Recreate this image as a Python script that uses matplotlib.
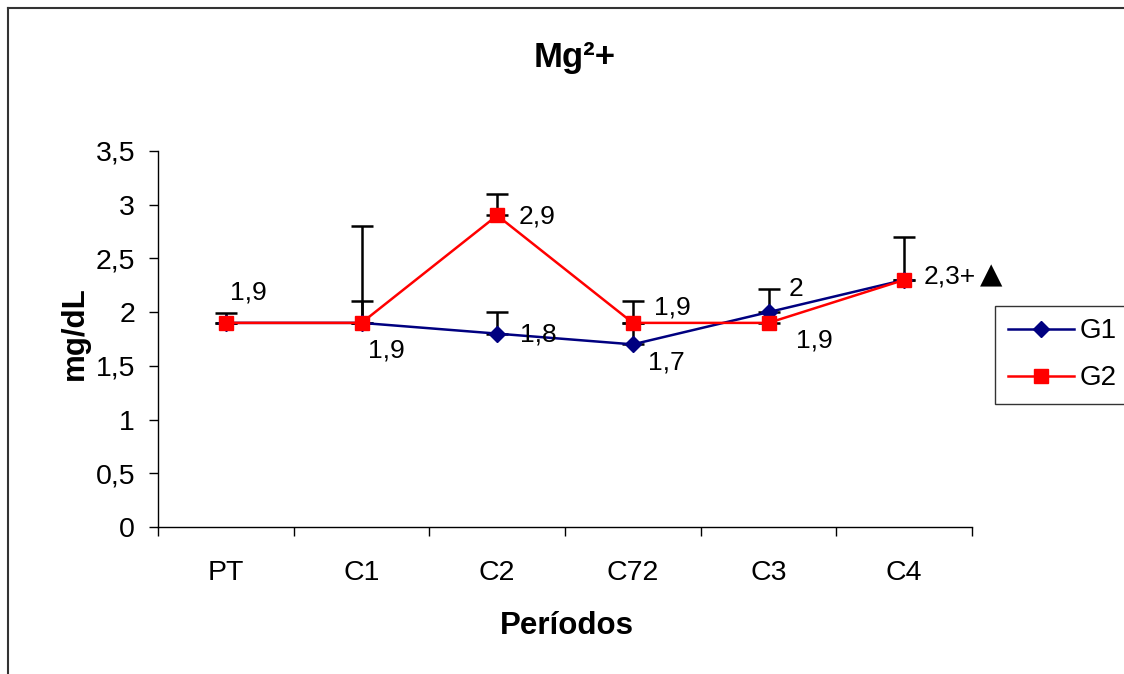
import numpy as np
import matplotlib
matplotlib.use("Agg")
import matplotlib.pyplot as plt
from matplotlib.ticker import FuncFormatter, FixedLocator
from matplotlib.lines import Line2D

plt.rcParams['font.family'] = ['Liberation Sans', 'DejaVu Sans']

categories = ["PT", "C1", "C2", "C72", "C3", "C4"]
g1 = [1.9, 1.9, 1.8, 1.7, 2.0, 2.3]
g2 = [1.9, 1.9, 2.9, 1.9, 1.9, 2.3]
g1_err = [np.nan, 0.2, 0.2, 0.2, 0.22, 0.4]
g2_err = [0.09, 0.9, 0.2, 0.2, np.nan, np.nan]
g1_labels = ["", "1,9", "1,8", "1,7", "2", ""]
g2_labels = ["1,9", "", "2,9", "1,9", "1,9", "2,3+"]
sig_mark = "\u25B2"
sig_index = 5
# label offsets in pixels (dx from point to left edge, dy of center)
g1_off = [(0, 0), (6, -28), (23, -1), (15, -18), (20, 23), (0, 0)]
g2_off = [(4, 30), (0, 0), (21, -1), (21, 15), (27, -18), (19, 3)]

W, H = 1124, 674
fig = plt.figure(figsize=(W / 100, H / 100), dpi=100)
ax = fig.add_axes([158 / W, 1 - 527 / H, (972 - 158) / W, (527 - 151) / H])

x = np.arange(len(categories))
zero = np.zeros(len(categories))

ax.errorbar(x, g1, yerr=[zero, g1_err], fmt='none', ecolor='black',
            elinewidth=1.8, capsize=8, capthick=1.8, zorder=2)
ax.errorbar(x, g2, yerr=[zero, g2_err], fmt='none', ecolor='black',
            elinewidth=1.8, capsize=8, capthick=1.8, zorder=2)
ax.plot(x, g1, color='#000080', lw=1.8, marker='D', markersize=8.5,
        markerfacecolor='#000080', markeredgecolor='#000080', zorder=3, label='G1')
ax.plot(x, g2, color='#FF0000', lw=1.8, marker='s', markersize=9.5,
        markerfacecolor='#FF0000', markeredgecolor='#FF0000', zorder=4, label='G2')

for xi, yi, lab, (dx, dy) in zip(x, g1, g1_labels, g1_off):
    if lab:
        ax.annotate(lab, (xi, yi), xytext=(dx, dy), textcoords='offset pixels',
                    ha='left', va='center', fontsize=19, zorder=5)
for xi, yi, lab, (dx, dy) in zip(x, g2, g2_labels, g2_off):
    if lab:
        ax.annotate(lab, (xi, yi), xytext=(dx, dy), textcoords='offset pixels',
                    ha='left', va='center', fontsize=19, zorder=5)
ax.annotate(sig_mark, (x[sig_index], g2[sig_index]), xytext=(76, 4),
            textcoords='offset pixels', ha='left', va='center', fontsize=21,
            family=['DejaVu Sans'], zorder=5)

ax.set_xlim(-0.5, len(categories) - 0.5)
ax.set_ylim(0, 3.5)
ax.set_yticks(np.arange(0, 3.51, 0.5))
ax.yaxis.set_major_formatter(FuncFormatter(lambda v, p: ('%g' % v).replace('.', ',')))
ax.set_xticks(x)
ax.set_xticklabels(categories)
ax.xaxis.set_minor_locator(FixedLocator(np.arange(-0.5, len(categories), 1.0)))
ax.tick_params(axis='x', which='major', length=0, pad=24, labelsize=20.5)
ax.tick_params(axis='x', which='minor', length=6.5, width=1, direction='out')
ax.tick_params(axis='y', which='major', length=6.5, width=1, direction='out',
               pad=10, labelsize=20.5)
for s in ['top', 'right']:
    ax.spines[s].set_visible(False)
for s in ['left', 'bottom']:
    ax.spines[s].set_linewidth(1)

fig.text(567 / W, 1 - 626 / H, "Períodos", ha='center', va='center',
         fontsize=22.5, fontweight='bold')
fig.text(75 / W, 1 - 333 / H, "mg/dL", ha='center', va='center',
         rotation=90, fontsize=22.5, fontweight='bold')
fig.text(575 / W, 1 - 57 / H, "Mg²+", ha='center', va='center',
         fontsize=25, fontweight='bold')

# outer chart border
fig.add_artist(Line2D([8 / W, 1], [1 - 8 / H, 1 - 8 / H], color='#333333', lw=1.5,
                      transform=fig.transFigure))
fig.add_artist(Line2D([8 / W, 8 / W], [1 - 8 / H, 0], color='#333333', lw=1.5,
                      transform=fig.transFigure))

leg = fig.legend(loc='upper left', bbox_to_anchor=(995 / W, 1 - 306 / H),
                 fontsize=20, frameon=True, fancybox=False, edgecolor='black',
                 handlelength=2.4, labelspacing=0.75, borderpad=0.45,
                 handletextpad=0.2, borderaxespad=0)
leg.get_frame().set_linewidth(1)

fig.savefig("out.png", dpi=100)
